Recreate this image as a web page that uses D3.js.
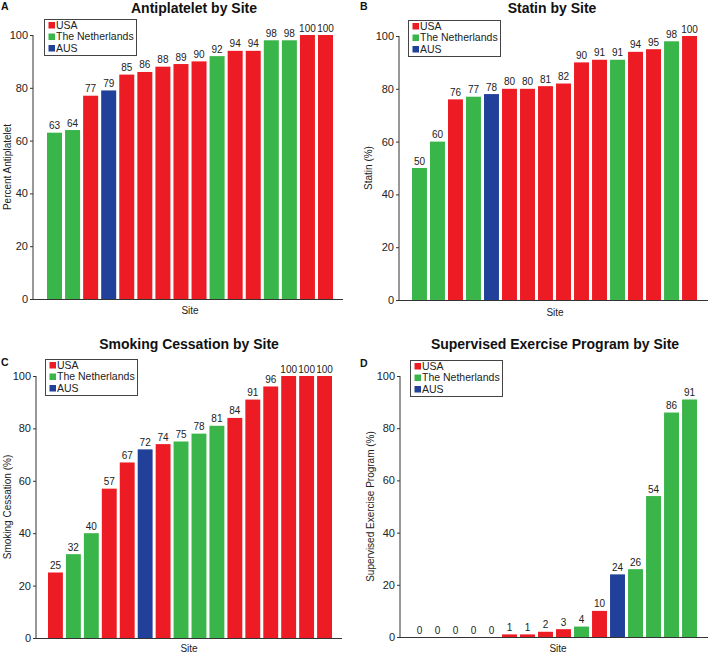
<!DOCTYPE html>
<html>
<head>
<meta charset="utf-8">
<script src="https://cdn.jsdelivr.net/npm/d3@7"></script>
<style>
  html, body { margin: 0; padding: 0; background: #fff; }
  svg { display: block; font-family: Arial, "Liberation Sans", Helvetica, sans-serif; }
</style>
</head>
<body>
<svg id="chart" width="709" height="654"></svg>
<script>
// ---------- Data ----------
const legendLabels = ["USA", "The Netherlands", "AUS"];
const countryColors = ["#ED1C24", "#3AB54A", "#21409A"];
const yTicks = [0, 20, 40, 60, 80, 100];

const antiplateletCountry = ["The Netherlands","The Netherlands","USA","AUS","USA","USA","USA","USA","USA","The Netherlands","USA","USA","The Netherlands","The Netherlands","USA","USA"];
const antiplateletValues  = [63, 64, 77, 79, 85, 86, 88, 89, 90, 92, 94, 94, 98, 98, 100, 100];

const statinCountry = ["The Netherlands","The Netherlands","USA","The Netherlands","AUS","USA","USA","USA","USA","USA","USA","The Netherlands","USA","USA","The Netherlands","USA"];
const statinValues  = [50, 60, 76, 77, 78, 80, 80, 81, 82, 90, 91, 91, 94, 95, 98, 100];

const smokingCountry = ["USA","The Netherlands","The Netherlands","USA","USA","AUS","USA","The Netherlands","The Netherlands","The Netherlands","USA","USA","USA","USA","USA","USA"];
const smokingValues  = [25, 32, 40, 57, 67, 72, 74, 75, 78, 81, 84, 91, 96, 100, 100, 100];

const exerciseCountry = ["USA","USA","USA","USA","USA","USA","USA","USA","USA","The Netherlands","USA","AUS","The Netherlands","The Netherlands","The Netherlands","The Netherlands"];
const exerciseValues  = [0, 0, 0, 0, 0, 1, 1, 2, 3, 4, 10, 24, 26, 54, 86, 91];

// ---------- Drawing ----------
const svg = d3.select("#chart");
const color = d3.scaleOrdinal().domain(legendLabels).range(countryColors);
const textColor = "#222";

function drawPanel(p) {
  const g = svg.append("g");
  const y = d3.scaleLinear().domain([0, 100]).range([p.y0, p.y100]);
  const x = d3.scaleBand()
    .domain(d3.range(p.values.length))
    .range([p.barsLeft, p.barsRight])
    .paddingInner(0.17)
    .paddingOuter(0);

  // bars
  g.selectAll("rect.bar")
    .data(p.values)
    .join("rect")
    .attr("class", "bar")
    .attr("x", (d, i) => x(i))
    .attr("width", x.bandwidth())
    .attr("y", d => y(d))
    .attr("height", d => p.y0 - y(d))
    .attr("fill", (d, i) => color(p.countries[i]));

  // value labels
  g.selectAll("text.val")
    .data(p.values)
    .join("text")
    .attr("class", "val")
    .attr("x", (d, i) => x(i) + x.bandwidth() / 2)
    .attr("y", d => y(d) - 3.5)
    .attr("text-anchor", "middle")
    .attr("font-size", 10)
    .attr("fill", textColor)
    .text(d => d);

  // y axis
  const yAxis = d3.axisLeft(y).tickValues(yTicks).tickSize(3).tickPadding(2);
  const ya = g.append("g")
    .attr("transform", `translate(${p.axisX},0)`)
    .call(yAxis);
  ya.select(".domain").attr("d", `M0,${p.y0}V${p.y100}`).attr("stroke", "#333");
  ya.selectAll(".tick line").attr("stroke", "#333");
  ya.selectAll(".tick text").attr("font-size", 11).attr("fill", textColor).attr("font-family", "Arial, 'Liberation Sans', sans-serif");

  // x axis baseline
  g.append("line")
    .attr("x1", p.axisX - 3).attr("x2", p.xEnd)
    .attr("y1", p.y0 + 0.5).attr("y2", p.y0 + 0.5)
    .attr("stroke", "#333").attr("stroke-width", 1);

  // title
  g.append("text")
    .attr("x", p.titleX).attr("y", p.titleY)
    .attr("text-anchor", "middle")
    .attr("font-size", 14).attr("font-weight", "bold").attr("fill", "#111")
    .text(p.title);

  // panel letter
  g.append("text")
    .attr("x", p.letterX).attr("y", p.letterY)
    .attr("font-size", 10.5).attr("font-weight", "bold").attr("fill", "#111")
    .text(p.letter);

  // y label
  g.append("text")
    .attr("transform", `translate(${p.ylabX},${(p.y0 + p.y100) / 2}) rotate(-90)`)
    .attr("text-anchor", "middle")
    .attr("font-size", 10).attr("fill", textColor)
    .text(p.ylabel);

  // x label
  g.append("text")
    .attr("x", p.xlabX).attr("y", p.xlabY)
    .attr("text-anchor", "middle")
    .attr("font-size", 10).attr("fill", textColor)
    .text("Site");

  // legend
  const lg = g.append("g").attr("transform", `translate(${p.legX},${p.legY})`);
  lg.append("rect")
    .attr("x", 0.5).attr("y", 0.5).attr("width", 92).attr("height", 36)
    .attr("fill", "#fff").attr("stroke", "#444").attr("stroke-width", 1);
  legendLabels.forEach((lab, i) => {
    lg.append("rect")
      .attr("x", 4.5).attr("y", 3 + i * 11.5)
      .attr("width", 6.5).attr("height", 6.5)
      .attr("fill", color(lab));
    lg.append("text")
      .attr("x", 12).attr("y", 9.5 + i * 11.5)
      .attr("font-size", 10.5).attr("fill", textColor)
      .text(lab);
  });
}

drawPanel({
  values: antiplateletValues, countries: antiplateletCountry,
  title: "Antiplatelet by Site", letter: "A", ylabel: "Percent Antiplatelet",
  axisX: 33, y0: 299, y100: 35, barsLeft: 47, barsRight: 333, xEnd: 343,
  titleX: 194, titleY: 13, letterX: 1, letterY: 10,
  ylabX: 11, xlabX: 190, xlabY: 314, legX: 44, legY: 19
});
drawPanel({
  values: statinValues, countries: statinCountry,
  title: "Statin by Site", letter: "B", ylabel: "Statin (%)",
  axisX: 399, y0: 300, y100: 36, barsLeft: 412, barsRight: 697, xEnd: 708,
  titleX: 552, titleY: 13, letterX: 360, letterY: 10,
  ylabX: 372, xlabX: 555, xlabY: 316, legX: 408, legY: 20
});
drawPanel({
  values: smokingValues, countries: smokingCountry,
  title: "Smoking Cessation by Site", letter: "C", ylabel: "Smoking Cessation (%)",
  axisX: 36, y0: 638, y100: 376, barsLeft: 48, barsRight: 332, xEnd: 342,
  titleX: 189, titleY: 349, letterX: 1, letterY: 366,
  ylabX: 11, xlabX: 189, xlabY: 652, legX: 45, legY: 359
});
drawPanel({
  values: exerciseValues, countries: exerciseCountry,
  title: "Supervised Exercise Program by Site", letter: "D", ylabel: "Supervised Exercise Program (%)",
  axisX: 400, y0: 637, y100: 376, barsLeft: 412, barsRight: 697, xEnd: 708,
  titleX: 555, titleY: 349, letterX: 360, letterY: 367,
  ylabX: 374, xlabX: 558, xlabY: 652, legX: 410, legY: 360
});
</script>
</body>
</html>
